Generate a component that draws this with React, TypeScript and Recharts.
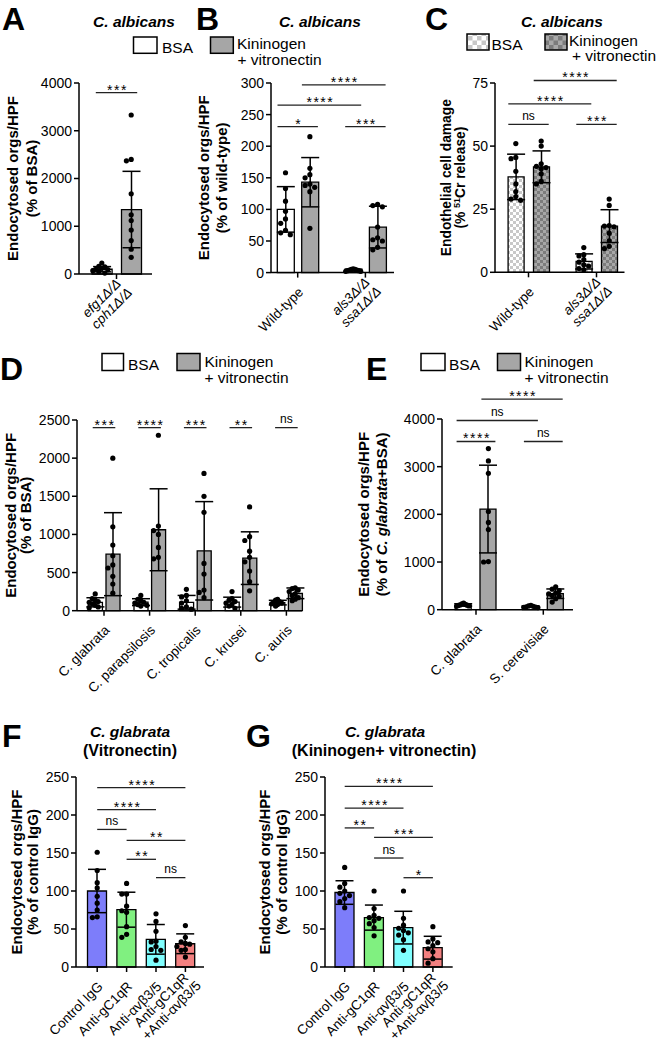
import React from 'react';
import { ComposedChart, Bar, Cell, ErrorBar, Scatter, XAxis, YAxis, ReferenceLine } from 'recharts';

const FONT = '"Liberation Sans", Arial, Helvetica, sans-serif';
const WHITE = '#ffffff';
const GRAY = '#a6a6a6';
const CHK_L = 'url(#chkL)';
const CHK_D = 'url(#chkD)';

type Sig = [number, number, number, string];

// ---- A: C. albicans efg1/cph1
const aGroups = ['efg1Δ/Δ\ncph1Δ/Δ'];
const aBsaMean = [100];
const aBsaSd = [55];
const aBsaPts = [[230, 160, 150, 120, 100, 90, 70, 50, 20]];
const aKvMean = [1350];
const aKvSd = [800];
const aKvPts = [[3330, 2400, 2370, 1680, 1240, 1120, 920, 700, 520, 350]];
const aYTicks = [0, 1000, 2000, 3000, 4000];
const aSig: Sig[] = [[0, 1, 3800, '***']];

// ---- B: endocytosis wild-type vs als3/ssa1
const bGroups = ['Wild-type', 'als3Δ/Δ\nssa1Δ/Δ'];
const bBsaMean = [100, 4];
const bBsaSd = [36, 1.5];
const bBsaPts = [
  [158, 133, 113, 97, 85, 78, 67, 63, 60],
  [6, 5, 5, 4, 4, 3, 3, 2, 2],
];
const bKvMean = [143, 72];
const bKvSd = [39, 33];
const bKvPts = [
  [215, 165, 155, 150, 140, 138, 135, 128, 70],
  [108, 106, 104, 72, 55, 52, 50, 40, 36],
];
const bYTicks = [0, 50, 100, 150, 200, 250, 300];
const bSig: Sig[] = [
  [0, 1, 231, '*'],
  [0, 2, 265, '****'],
  [1, 3, 297, '****'],
  [2, 3, 231, '***'],
];

// ---- C: endothelial damage
const cGroups = ['Wild-type', 'als3Δ/Δ\nssa1Δ/Δ'];
const cBsaMean = [37.8, 4.3];
const cBsaSd = [9, 3];
const cBsaPts = [
  [51, 45.5, 45, 40, 35, 32, 30, 29, 28.5],
  [9.8, 7, 6.5, 5, 4, 3, 2.5, 1.5, 1],
];
const cKvMean = [41.8, 18.3];
const cKvSd = [6.3, 6.5];
const cKvPts = [
  [52, 50, 43, 42, 41.5, 41, 39, 36, 35],
  [29, 26.5, 18.5, 18.3, 18, 15.5, 12.5, 10.3, 9.4],
];
const cYTicks = [0, 25, 50, 75];
const cSig: Sig[] = [
  [0, 1, 58.6, 'ns'],
  [0, 2, 66.7, '****'],
  [1, 3, 76, '****'],
  [2, 3, 58.6, '***'],
];

// ---- D: other Candida species
const dGroups = ['C. glabrata', 'C. parapsilosis', 'C. tropicalis', 'C. krusei', 'C. auris'];
const dBsaMean = [110, 112, 110, 112, 106];
const dBsaSd = [60, 45, 90, 65, 30];
const dBsaPts = [
  [220, 160, 140, 120, 110, 90, 70, 50, 40],
  [200, 150, 130, 110, 100, 80, 70, 60],
  [280, 200, 180, 130, 100, 50, 30, 20],
  [250, 160, 140, 120, 100, 80, 60, 30],
  [150, 140, 120, 110, 100, 90, 80, 60],
];
const dKvMean = [741, 1061, 785, 689, 228];
const dKvSd = [544, 537, 645, 345, 70];
const dKvPts = [
  [2000, 1100, 860, 720, 600, 560, 450, 350, 230],
  [2300, 1110, 1050, 1000, 830, 700, 680],
  [1800, 1500, 1290, 620, 480, 270, 240, 170],
  [1360, 970, 920, 780, 700, 640, 520, 380, 260],
  [300, 290, 270, 250, 220, 200, 170, 150, 130],
];
const dYTicks = [0, 500, 1000, 1500, 2000, 2500];
const dSig: Sig[] = [
  [0, 1, 2400, '***'],
  [2, 3, 2400, '****'],
  [4, 5, 2400, '***'],
  [6, 7, 2400, '**'],
  [8, 9, 2400, 'ns'],
];

// ---- E: C. glabrata vs S. cerevisiae
const eGroups = ['C. glabrata', 'S. cerevisiae'];
const eBsaMean = [100, 64];
const eBsaSd = [25, 15];
const eBsaPts = [
  [140, 120, 110, 100, 95, 90, 80, 70],
  [90, 80, 70, 60, 55, 50, 45],
];
const eKvMean = [2111, 335];
const eKvSd = [920, 100];
const eKvPts = [
  [3380, 3120, 2860, 2060, 1830, 1680, 1010, 1000],
  [480, 430, 400, 350, 330, 300, 280, 230, 160],
];
const eYTicks = [0, 1000, 2000, 3000, 4000];
const eSig: Sig[] = [
  [0, 1, 3528, '****'],
  [0, 2, 3969, 'ns'],
  [1, 3, 4417, '****'],
  [2, 3, 3528, 'ns'],
];

// ---- F / G: antibody blocking
const abGroups = ['Control IgG', 'Anti-gC1qR', 'Anti-αvβ3/5', 'Anti-gC1qR\n+Anti-αvβ3/5'];
const abColors = ['#7d7dfa', '#80f080', '#80ffff', '#f28080'];
const fMean = [100, 75.4, 36.4, 30.6];
const fSd = [28.5, 23, 19.5, 13];
const fPts = [
  [151, 127, 111, 104, 93, 84, 75, 66, 65],
  [110, 96, 96, 80, 74, 72, 53, 43, 39],
  [70, 60, 47, 34, 33, 27, 23, 22, 9],
  [54.5, 39, 33, 31, 30, 27, 23, 22, 13],
];
const fSig: Sig[] = [
  [0, 3, 236, '****'],
  [0, 2, 207, '****'],
  [0, 1, 181, 'ns'],
  [1, 3, 166.7, '**'],
  [1, 2, 141.7, '**'],
  [2, 3, 117.6, 'ns'],
];
const gMean = [98, 65, 51.8, 25.4];
const gSd = [15.5, 16.5, 21.5, 15];
const gPts = [
  [131, 110, 105, 100, 97, 94, 90, 86, 78],
  [100, 77, 68, 65, 64, 61, 57, 52, 41],
  [100, 64, 55, 51, 48, 45, 42, 36, 22],
  [53, 37, 33, 32, 28, 24, 20, 11, 5],
];
const gSig: Sig[] = [
  [0, 3, 237.7, '****'],
  [0, 2, 209, '****'],
  [0, 1, 183, '**'],
  [1, 3, 170.6, '***'],
  [1, 2, 143.4, 'ns'],
  [2, 3, 117.5, '*'],
];
const abYTicks = [0, 50, 100, 150, 200, 250];

type Series = { mean: number[]; sd: number[]; pts: number[][]; fill: string[] };
type Lay = {
  L: number; R: number; T: number; B: number;
  yw: number; mt: number; mr: number; xh: number;
  c0: number; gp: number; step: number; bw: number; ext: number; ymax: number;
};

let ctx: CanvasRenderingContext2D | null = null;
const textW = (s: string, font: string) => {
  if (!ctx) ctx = document.createElement('canvas').getContext('2d');
  if (!ctx) return s.length * 7;
  ctx.font = font;
  return ctx.measureText(s).width;
};

function build(groups: string[], series: Series[], lay: Lay) {
  const n = series.length;
  const bars: any[] = [];
  const pts: any[] = [];
  const pxPerVal = (lay.B - lay.T) / lay.ymax;
  const order = [0, -1, 1, -2, 2, -3, 3, -4, 4, -5, 5];
  groups.forEach((_, g) => {
    series.forEach((s, k) => {
      const x = g + ((k - (n - 1) / 2) * lay.step) / lay.gp;
      bars.push({ x, y: s.mean[g], sd: s.sd[g], fill: s.fill[g] });
      const vals = s.pts[g];
      const slots: number[] = [];
      vals.forEach((v, i) => {
        const taken = new Set<number>();
        for (let j = 0; j < i; j++) if (Math.abs(vals[j] - v) * pxPerVal < 5) taken.add(slots[j]);
        const free = order.find((o) => !taken.has(o));
        slots.push(free === undefined ? 0 : free);
      });
      const maxAbs = Math.max(1, ...slots.map((q) => Math.abs(q)));
      const sp = Math.min(4.8, (lay.bw / 2 - 1) / maxAbs);
      vals.forEach((v, i) => pts.push({ x, y: v, dx: slots[i] * sp }));
    });
  });
  return { bars, pts };
}

const XTick = (props: any) => {
  const { x, y, payload, labels, italics } = props;
  const i = Math.round(payload.value);
  const label: string | undefined = labels[i];
  if (label == null) return null;
  const lines = label.split('\n');
  const it = italics[i];
  const fs = 13.5;
  const font = `${it ? 'italic ' : ''}${fs}px "Liberation Sans"`;
  const W = Math.max(...lines.map((l) => textW(l, font)));
  const lh = 14.5;
  const multi = lines.length > 1;
  const px = x + (multi ? 8 : 3);
  const py = y + (multi ? 4 : 10);
  return (
    <g transform={`translate(${px},${py}) rotate(-45)`}>
      {lines.map((l, k) => (
        <text
          key={k}
          x={-W / 2}
          y={(k - (lines.length - 1) / 2) * lh}
          dy="0.35em"
          textAnchor="middle"
          fontFamily={FONT}
          fontSize={fs}
          fontStyle={it ? 'italic' : 'normal'}
          fill="#000"
        >
          {l}
        </text>
      ))}
    </g>
  );
};

const YTitle = (props: any) => {
  const { viewBox, lines, offs, size } = props;
  const ax = viewBox.x + viewBox.width;
  const cy = viewBox.y + viewBox.height / 2;
  return (
    <g>
      {lines.map((ln: React.ReactNode, i: number) => {
        const x = ax + offs[i];
        return (
          <text
            key={i}
            x={x}
            y={cy}
            transform={`rotate(-90 ${x} ${cy})`}
            textAnchor="middle"
            fontFamily={FONT}
            fontWeight="bold"
            fontSize={size}
            fill="#000"
          >
            {ln}
          </text>
        );
      })}
    </g>
  );
};

const SigText = (props: any) => {
  const { viewBox, text } = props;
  const cx = viewBox.x + viewBox.width / 2;
  const ns = text === 'ns';
  return (
    <text
      x={cx}
      dx={ns ? 0 : 1}
      y={viewBox.y + (ns ? -4.5 : 2)}
      textAnchor="middle"
      fontFamily={FONT}
      fontSize={ns ? 12 : 14}
      letterSpacing={ns ? 0 : 1.5}
      fill="#000"
    >
      {text}
    </text>
  );
};

const Dot = (p: any) => <circle cx={p.cx + (p.payload?.dx || 0)} cy={p.cy} r={2.6} fill="#000" />;

type PanelProps = {
  groups: string[];
  italics: boolean[];
  series: Series[];
  lay: Lay;
  yTicks: number[];
  sig: Sig[];
  yTitle: React.ReactNode[];
  yOffs: number[];
  ySize: number;
};

function Panel({ groups, italics, series, lay, yTicks, sig, yTitle, yOffs, ySize }: PanelProps) {
  const { bars, pts } = build(groups, series, lay);
  const d0 = (lay.L - lay.c0) / lay.gp;
  const d1 = (lay.R - lay.c0) / lay.gp;
  const w = lay.yw + (lay.R - lay.L) + lay.mr;
  const h = lay.mt + (lay.B - lay.T) + lay.xh;
  const ext = lay.ext / lay.gp;
  const axisStyle = { stroke: '#000', strokeWidth: 1.5 };
  return (
    <div style={{ position: 'absolute', left: lay.L - lay.yw, top: lay.T - lay.mt }}>
      <ComposedChart width={w} height={h} data={bars} margin={{ top: lay.mt, right: lay.mr, bottom: 0, left: 0 }}>
        <XAxis
          type="number"
          dataKey="x"
          domain={[d0, d1]}
          ticks={groups.map((_, i) => i)}
          tickCount={2}
          interval={0}
          height={lay.xh}
          tickSize={5}
          axisLine={axisStyle}
          tickLine={axisStyle}
          tick={<XTick labels={groups} italics={italics} />}
        />
        <YAxis
          type="number"
          domain={[0, lay.ymax]}
          ticks={yTicks}
          interval={0}
          width={lay.yw}
          tickSize={5}
          tickMargin={2}
          axisLine={axisStyle}
          tickLine={axisStyle}
          tick={{ fontSize: 14, fill: '#000', fontFamily: FONT }}
          label={<YTitle lines={yTitle} offs={yOffs} size={ySize} />}
        />
        <Bar dataKey="y" barSize={lay.bw} stroke="#000" strokeWidth={1.3} isAnimationActive={false}>
          {bars.map((b, i) => (
            <Cell key={i} fill={b.fill} />
          ))}
          <ErrorBar dataKey="sd" width={9} stroke="#000" strokeWidth={1.5} direction="y" isAnimationActive={false} />
        </Bar>
        <Scatter data={pts} dataKey="y" shape={Dot} isAnimationActive={false} />
        {sig.map(([a, b, yv, t], i) => (
          <ReferenceLine
            key={i}
            segment={[
              { x: bars[a].x - ext, y: yv },
              { x: bars[b].x + ext, y: yv },
            ]}
            ifOverflow="visible"
            stroke="#222"
            strokeWidth={1.3}
            label={<SigText text={t} />}
          />
        ))}
      </ComposedChart>
    </div>
  );
}

const layA: Lay = { L: 79, R: 152, T: 83, B: 274, yw: 79, mt: 60, mr: 15, xh: 90, c0: 116.5, gp: 70, step: 29.4, bw: 20, ext: 6, ymax: 4000 };
const layB: Lay = { L: 271, R: 394, T: 82.7, B: 272.3, yw: 76, mt: 60, mr: 10, xh: 90, c0: 297.7, gp: 67.7, step: 24.4, bw: 17, ext: 8, ymax: 300 };
const layC: Lay = { L: 494.5, R: 624, T: 82.7, B: 272, yw: 60, mt: 60, mr: 10, xh: 90, c0: 528, gp: 68, step: 25.4, bw: 16, ext: 7.5, ymax: 75 };
const layD: Lay = { L: 77, R: 302, T: 420, B: 610.7, yw: 77, mt: 50, mr: 10, xh: 90, c0: 104, gp: 45.6, step: 17.6, bw: 14, ext: 2.5, ymax: 2500 };
const layE: Lay = { L: 442, R: 573, T: 419.3, B: 610, yw: 90, mt: 50, mr: 10, xh: 90, c0: 476, gp: 67.3, step: 24.8, bw: 16, ext: 7, ymax: 4000 };
const layF: Lay = { L: 76, R: 204, T: 776.7, B: 966.7, yw: 70, mt: 30, mr: 30, xh: 77, c0: 97.2, gp: 29.4, step: 0, bw: 19, ext: 0, ymax: 250 };
const layG: Lay = { L: 325, R: 452.7, T: 776.7, B: 966.7, yw: 70, mt: 30, mr: 34, xh: 77, c0: 344.7, gp: 29.4, step: 0, bw: 19, ext: 0, ymax: 250 };

const txt = { fontFamily: FONT, fill: '#000' } as const;

const Letter = ({ x, y, t }: { x: number; y: number; t: string }) => (
  <text x={x} y={y} fontSize={32} fontWeight="bold" {...txt}>
    {t}
  </text>
);

const Title = ({ x, y, children, italic = true, size = 15.5 }: any) => (
  <text x={x} y={y} fontSize={size} fontWeight="bold" fontStyle={italic ? 'italic' : 'normal'} textAnchor="middle" {...txt}>
    {children}
  </text>
);

const LegendPair = ({ b1, b2, f1, f2, bsa, k1, k2 }: any) => (
  <g>
    <rect x={b1[0]} y={b1[1]} width={b1[2]} height={b1[3]} fill={f1} stroke="#000" strokeWidth={1.5} />
    <text x={bsa[0]} y={bsa[1]} fontSize={15.5} {...txt}>BSA</text>
    <rect x={b2[0]} y={b2[1]} width={b2[2]} height={b2[3]} fill={f2} stroke="#000" strokeWidth={1.5} />
    <text x={k1[0]} y={k1[1]} fontSize={15.5} {...txt}>Kininogen</text>
    <text x={k2[0]} y={k2[1]} fontSize={15.5} {...txt}>+ vitronectin</text>
  </g>
);

export default function App() {
  return (
    <div style={{ position: 'absolute', left: 0, top: 0, width: 659, height: 1044, overflow: 'hidden', background: '#fff' }}>
      <svg width={659} height={1044} style={{ position: 'absolute', left: 0, top: 0 }}>
        <defs>
          <pattern id="chkL" width={6} height={6} patternUnits="userSpaceOnUse">
            <rect width={6} height={6} fill="#ffffff" />
            <rect width={3} height={3} fill="#c8c8c8" />
            <rect x={3} y={3} width={3} height={3} fill="#c8c8c8" />
          </pattern>
          <pattern id="chkD" width={6} height={6} patternUnits="userSpaceOnUse">
            <rect width={6} height={6} fill="#a8a8a8" />
            <rect width={3} height={3} fill="#7c7c7c" />
            <rect x={3} y={3} width={3} height={3} fill="#7c7c7c" />
          </pattern>
          <pattern id="chkLg" width={9} height={9} patternUnits="userSpaceOnUse">
            <rect width={9} height={9} fill="#ffffff" />
            <rect width={4.5} height={4.5} fill="#c8c8c8" />
            <rect x={4.5} y={4.5} width={4.5} height={4.5} fill="#c8c8c8" />
          </pattern>
          <pattern id="chkDg" width={9} height={9} patternUnits="userSpaceOnUse">
            <rect width={9} height={9} fill="#a8a8a8" />
            <rect width={4.5} height={4.5} fill="#7c7c7c" />
            <rect x={4.5} y={4.5} width={4.5} height={4.5} fill="#7c7c7c" />
          </pattern>
        </defs>

        <Letter x={2} y={30} t="A" />
        <Letter x={196} y={30} t="B" />
        <Letter x={425} y={30} t="C" />
        <Letter x={0} y={380} t="D" />
        <Letter x={366} y={380} t="E" />
        <Letter x={2} y={747} t="F" />
        <Letter x={246} y={747} t="G" />

        <Title x={134} y={27}>C. albicans</Title>
        <Title x={320} y={27}>C. albicans</Title>
        <Title x={562} y={27}>C. albicans</Title>
        <Title x={130} y={736.5}>C. glabrata</Title>
        <Title x={130} y={756} italic={false} size={16}>(Vitronectin)</Title>
        <Title x={385} y={736.5}>C. glabrata</Title>
        <Title x={384} y={756} italic={false} size={16}>(Kininogen+ vitronectin)</Title>

        <LegendPair b1={[133.5, 37, 23.5, 16.3]} b2={[210.5, 37, 22.8, 16.3]} f1={WHITE} f2={GRAY} bsa={[162, 53]} k1={[237, 49]} k2={[237.5, 64.5]} />
        <LegendPair b1={[467, 34, 22, 16]} b2={[545, 34, 22, 16]} f1="url(#chkLg)" f2="url(#chkDg)" bsa={[491.5, 50]} k1={[569, 45.5]} k2={[572, 61]} />
        <LegendPair b1={[102, 353.5, 21.5, 17]} b2={[177, 353.5, 23, 17]} f1={WHITE} f2={GRAY} bsa={[128, 370]} k1={[204.5, 366.5]} k2={[204.5, 382.5]} />
        <LegendPair b1={[421, 353.5, 24, 17]} b2={[497.5, 353.5, 23, 17]} f1={WHITE} f2={GRAY} bsa={[449, 370]} k1={[524.5, 366.5]} k2={[524.5, 382.5]} />
      </svg>

      <Panel
        groups={aGroups}
        italics={[true]}
        series={[
          { mean: aBsaMean, sd: aBsaSd, pts: aBsaPts, fill: [WHITE] },
          { mean: aKvMean, sd: aKvSd, pts: aKvPts, fill: [GRAY] },
        ]}
        lay={layA}
        yTicks={aYTicks}
        sig={aSig}
        yTitle={['Endocytosed orgs/HPF', '(% of BSA)']}
        yOffs={[-60.7, -42.3]}
        ySize={15}
      />
      <Panel
        groups={bGroups}
        italics={[false, true]}
        series={[
          { mean: bBsaMean, sd: bBsaSd, pts: bBsaPts, fill: [WHITE, WHITE] },
          { mean: bKvMean, sd: bKvSd, pts: bKvPts, fill: [GRAY, GRAY] },
        ]}
        lay={layB}
        yTicks={bYTicks}
        sig={bSig}
        yTitle={['Endocytosed orgs/HPF', '(% of wild-type)']}
        yOffs={[-62, -44]}
        ySize={15}
      />
      <Panel
        groups={cGroups}
        italics={[false, true]}
        series={[
          { mean: cBsaMean, sd: cBsaSd, pts: cBsaPts, fill: [CHK_L, CHK_L] },
          { mean: cKvMean, sd: cKvSd, pts: cKvPts, fill: [CHK_D, CHK_D] },
        ]}
        lay={layC}
        yTicks={cYTicks}
        sig={cSig}
        yTitle={[
          'Endothelial cell damage',
          <>
            (%{' '}
            <tspan fontSize={9} dy={-5}>
              51
            </tspan>
            <tspan dy={5}>Cr release)</tspan>
          </>,
        ]}
        yOffs={[-44, -29.5]}
        ySize={13.8}
      />
      <Panel
        groups={dGroups}
        italics={[false, false, false, false, false]}
        series={[
          { mean: dBsaMean, sd: dBsaSd, pts: dBsaPts, fill: dGroups.map(() => WHITE) },
          { mean: dKvMean, sd: dKvSd, pts: dKvPts, fill: dGroups.map(() => GRAY) },
        ]}
        lay={layD}
        yTicks={dYTicks}
        sig={dSig}
        yTitle={['Endocytosed orgs/HPF', '(% of BSA)']}
        yOffs={[-61.5, -46.5]}
        ySize={15}
      />
      <Panel
        groups={eGroups}
        italics={[false, false]}
        series={[
          { mean: eBsaMean, sd: eBsaSd, pts: eBsaPts, fill: [WHITE, WHITE] },
          { mean: eKvMean, sd: eKvSd, pts: eKvPts, fill: [GRAY, GRAY] },
        ]}
        lay={layE}
        yTicks={eYTicks}
        sig={eSig}
        yTitle={[
          'Endocytosed orgs/HPF',
          <>
            (% of <tspan fontStyle="italic">C. glabrata</tspan>+BSA)
          </>,
        ]}
        yOffs={[-73, -55]}
        ySize={15}
      />
      <Panel
        groups={abGroups}
        italics={[false, false, false, false]}
        series={[{ mean: fMean, sd: fSd, pts: fPts, fill: abColors }]}
        lay={layF}
        yTicks={abYTicks}
        sig={fSig}
        yTitle={['Endocytosed orgs/HPF', '(% of control IgG)']}
        yOffs={[-54, -38.5]}
        ySize={15}
      />
      <Panel
        groups={abGroups}
        italics={[false, false, false, false]}
        series={[{ mean: gMean, sd: gSd, pts: gPts, fill: abColors }]}
        lay={layG}
        yTicks={abYTicks}
        sig={gSig}
        yTitle={['Endocytosed orgs/HPF', '(% of control IgG)']}
        yOffs={[-54.5, -38]}
        ySize={15}
      />
    </div>
  );
}
